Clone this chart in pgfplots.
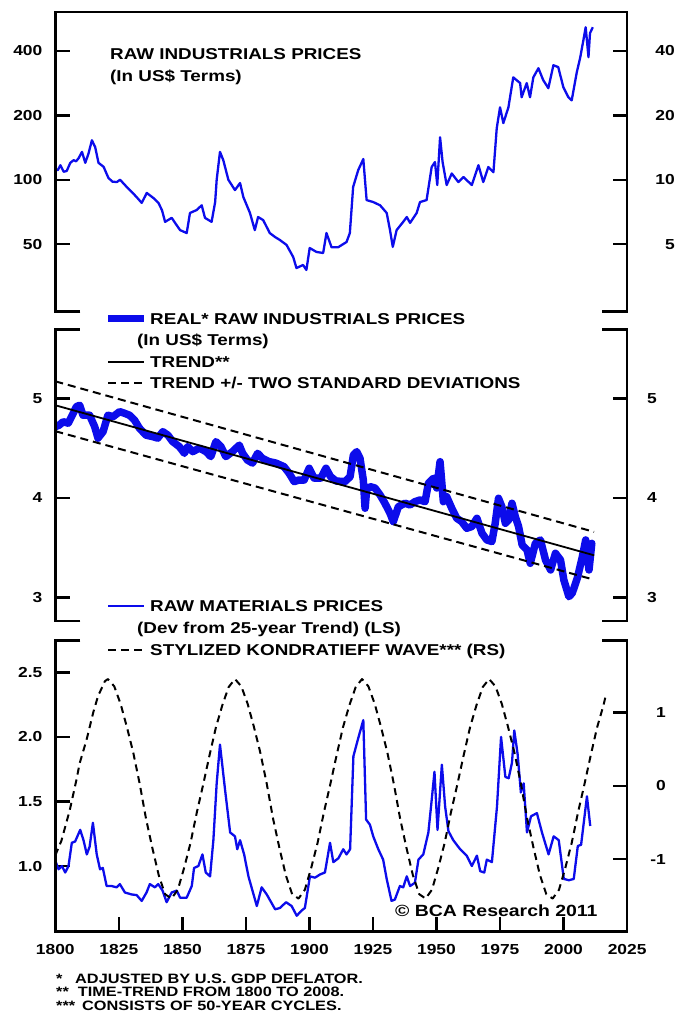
\documentclass[border=0pt]{standalone}
\usepackage{fontspec}
\setmainfont{Liberation Sans}[FakeStretch=1.2]
\usepackage{pgfplots}
\usepackage{pgfplotstable}
\pgfplotsset{compat=1.18}

\definecolor{lineblue}{RGB}{12,12,235}

\newcommand\tickfont{\bfseries\fontsize{14.5}{14.5}\selectfont}
\newcommand\legfont{\bfseries\fontsize{15.7}{15.7}\selectfont}
\newcommand\notefont{\bfseries\fontsize{13.6}{13.6}\selectfont}
\newcommand\bcafont{\bfseries\fontsize{16.2}{16.2}\selectfont}

% Raw industrials prices, nominal US$ (log scale)
\pgfplotstableread{
year val
1800 111
1801 111
1802 117
1803.3 109
1804.5 110
1805.9 120
1807.2 123.5
1808.2 122
1809.2 126.3
1810.5 135
1811.8 120
1813.1 133
1814.4 153
1815.7 142
1817 120
1819 115
1820.9 102
1822.5 98
1824.2 97.6
1825.5 100
1828.1 92.6
1830 88
1832 83
1834 78
1836 86.8
1838.6 82.2
1840.6 78
1842 72
1843.2 63.6
1845.8 66.4
1847.5 62
1849.1 58.2
1851.7 56.4
1853 70
1855.6 72.2
1857.6 76
1858.9 66.4
1861.5 63.6
1862.9 78.7
1863.5 100
1864.8 135
1866.1 123.5
1868.1 100
1870.7 89.5
1872.7 96.6
1874 83
1876.6 70
1878.5 58.2
1879.8 67
1881.8 64.8
1884.4 56.4
1886.5 54
1888.4 52.3
1891 49.6
1893.6 43.6
1894.9 38.7
1897.5 40
1898.8 37.9
1900.1 48
1902.8 46
1905.4 45.5
1906.7 56.4
1908.7 48.4
1911.3 48.4
1914.6 51.2
1915.9 56.4
1917.2 92.6
1919.2 111
1921.2 125
1922.5 80.4
1925.1 78.7
1927.8 76
1930.4 70
1931.7 58.2
1932.8 48.6
1934.3 58.2
1936.9 63.6
1938.3 67
1939.6 62.9
1942.2 70
1943.5 78.7
1946.1 80.4
1948.1 114.7
1949.4 121
1950.3 94.5
1951.4 158
1952.4 121
1954 94.5
1956 107
1958.6 97.6
1960.6 103
1963.9 94.5
1966.5 117
1968.4 97.6
1970.4 114.7
1972.4 108.5
1973.7 174
1975 218
1976.3 184
1978.3 218
1980.2 301
1982.9 283
1983.5 243
1985.5 283
1986.8 243
1988.1 301
1990.1 332
1992 292
1994 268
1996 343
1997.9 336
1999.9 271
2001.9 243
2003.2 235
2005.2 318
2006.5 370
2007.8 449
2008.7 516
2009.8 374
2010.4 484
2011.5 516
}\rawnominal

% Real raw industrials prices (log of deflated index)
\pgfplotstableread{
year val
1800 4.715
1801.5 4.73
1803.1 4.765
1805.1 4.75
1806.4 4.815
1808.3 4.916
1809.6 4.93
1810.9 4.83
1813.5 4.83
1815.5 4.715
1816.8 4.60
1818.8 4.665
1820.7 4.83
1822.7 4.815
1825.3 4.866
1827.2 4.85
1829.2 4.83
1831.2 4.78
1833.1 4.70
1835.7 4.63
1838.4 4.615
1840.3 4.60
1842.3 4.665
1844.3 4.63
1846.2 4.565
1848.8 4.515
1850.8 4.448
1852.1 4.515
1854.1 4.465
1856.7 4.50
1859.3 4.465
1861.2 4.415
1863.2 4.565
1865.2 4.515
1867.1 4.415
1869.7 4.465
1872.4 4.53
1873.7 4.448
1875.6 4.38
1877.6 4.35
1879.6 4.448
1881.5 4.398
1884.1 4.365
1886.8 4.35
1890.0 4.314
1892.0 4.248
1894.0 4.164
1895.9 4.18
1897.9 4.18
1899.9 4.298
1901.8 4.20
1904.5 4.20
1906.5 4.298
1908.3 4.214
1910.5 4.17
1914.0 4.164
1916.0 4.214
1917.3 4.431
1918.6 4.465
1919.9 4.398
1921.2 4.18
1921.9 3.897
1922.5 4.08
1923.8 4.114
1925.8 4.10
1927.8 4.03
1929.7 3.947
1931.7 3.847
1933.0 3.763
1935.0 3.913
1937.6 3.947
1939.6 3.93
1941.5 3.963
1943.5 3.98
1945.5 3.963
1946.8 4.147
1948.8 4.198
1950.1 4.10
1951.4 4.364
1952.7 3.963
1954.0 4.013
1956.0 3.897
1958.0 3.796
1959.9 3.763
1961.9 3.696
1963.9 3.713
1965.9 3.796
1967.9 3.646
1969.8 3.579
1971.8 3.563
1973.1 3.746
1974.4 3.997
1975.7 3.913
1977.1 3.746
1978.4 3.78
1979.7 3.947
1981.0 3.813
1982.3 3.713
1983.7 3.529
1985.6 3.479
1986.9 3.345
1988.9 3.545
1990.9 3.579
1992.9 3.378
1994.9 3.278
1996.8 3.445
1998.8 3.378
2000.1 3.178
2002.1 3.01
2003.4 3.045
2005.4 3.195
2007.4 3.411
2008.7 3.579
2010.0 3.278
2011.1 3.545
}\realprices

% Raw materials prices, deviation from 25-year trend (left scale)
\pgfplotstableread{
year val
1800 1.04
1801.3 0.975
1802.6 1.0
1803.9 0.95
1805.2 1.0
1806.5 1.18
1807.8 1.19
1809.8 1.28
1811.1 1.20
1812.4 1.09
1813.5 1.15
1814.8 1.335
1816.3 1.09
1817.6 0.975
1818.7 0.985
1820.2 0.845
1822.2 0.845
1824.1 0.835
1825.4 0.86
1827.4 0.795
1830.0 0.78
1832.0 0.775
1834.0 0.73
1835.9 0.795
1837.2 0.86
1839.2 0.835
1840.5 0.86
1842.2 0.81
1843.8 0.72
1845.8 0.795
1847.8 0.81
1849.1 0.755
1851.7 0.755
1853.7 0.845
1854.6 0.985
1856.3 1.0
1857.9 1.09
1859.2 0.95
1860.9 0.92
1862.2 1.20
1863.5 1.64
1864.8 1.94
1866.8 1.59
1868.8 1.26
1870.7 1.23
1871.6 1.13
1872.7 1.20
1874.3 1.09
1876.0 0.92
1879.3 0.69
1881.2 0.835
1883.2 0.78
1886.5 0.665
1888.4 0.675
1890.8 0.72
1893.0 0.69
1895.0 0.615
1896.9 0.655
1898.2 0.675
1900.2 0.92
1902.2 0.91
1904.2 0.935
1906.1 0.95
1908.1 1.18
1909.4 1.03
1911.4 1.06
1913.3 1.13
1914.6 1.09
1916.0 1.13
1917.3 1.85
1919.2 1.99
1921.2 2.13
1922.3 1.36
1923.8 1.32
1925.1 1.23
1927.1 1.13
1929.0 1.05
1930.4 0.90
1932.3 0.73
1933.6 0.74
1935.6 0.845
1936.9 0.835
1938.3 0.92
1939.6 0.845
1941.5 0.87
1942.9 1.05
1944.8 1.09
1946.8 1.26
1948.1 1.51
1949.2 1.73
1950.4 1.28
1952.1 1.785
1953.4 1.46
1954.7 1.27
1956.6 1.20
1959.3 1.13
1961.9 1.08
1963.9 1.00
1965.9 1.08
1967.2 0.96
1968.8 0.95
1969.8 1.05
1971.8 1.03
1973.8 1.46
1975.4 2.00
1977.1 1.69
1978.4 1.68
1979.7 1.80
1980.6 2.05
1981.9 1.87
1983.2 1.57
1984.3 1.64
1985.6 1.26
1987.2 1.385
1989.5 1.41
1991.5 1.26
1994.1 1.09
1996.1 1.23
1998.1 1.20
2000.1 0.90
2002.1 0.89
2004.0 0.90
2005.6 1.155
2006.9 1.165
2009.2 1.54
2010.5 1.31
}\rawdev

% Stylized Kondratieff wave, 50-year cycles (right scale)
\pgfplotstableread{
year val
1800 -0.95
1802.4 -0.75
1805.7 -0.33
1808.3 0.08
1809.6 0.31
1812.3 0.63
1814.9 1.00
1816.8 1.225
1819.5 1.43
1820.7 1.46
1823.2 1.36
1825.7 1.12
1828.2 0.80
1830.7 0.45
1833.2 0.03
1835.7 -0.45
1838.2 -0.85
1840.7 -1.22
1843.2 -1.48
1845.7 -1.54
1848.2 -1.42
1850.7 -1.12
1853.2 -0.78
1855.7 -0.36
1858.2 0.02
1860.7 0.42
1863.2 0.80
1865.7 1.10
1868.2 1.35
1870.7 1.46
1873.2 1.36
1875.7 1.12
1878.2 0.80
1880.7 0.45
1883.2 0.03
1885.7 -0.45
1888.2 -0.85
1890.7 -1.22
1893.2 -1.48
1895.7 -1.54
1898.2 -1.42
1900.7 -1.12
1903.2 -0.78
1905.7 -0.36
1908.2 0.02
1910.7 0.42
1913.2 0.80
1915.7 1.10
1918.2 1.35
1920.7 1.46
1923.2 1.36
1925.7 1.12
1928.2 0.80
1930.7 0.45
1933.2 0.03
1935.7 -0.45
1938.2 -0.85
1940.7 -1.22
1943.2 -1.48
1945.7 -1.54
1948.2 -1.42
1950.7 -1.12
1953.2 -0.78
1955.7 -0.36
1958.2 0.02
1960.7 0.42
1963.2 0.80
1965.7 1.10
1968.2 1.35
1970.7 1.46
1973.2 1.36
1975.7 1.12
1978.2 0.80
1980.7 0.45
1983.2 0.03
1985.7 -0.45
1988.2 -0.85
1990.7 -1.22
1993.2 -1.48
1995.7 -1.54
1998.2 -1.42
2000.7 -1.12
2003.2 -0.78
2005.7 -0.36
2008.2 0.02
2010.7 0.42
2013.2 0.80
2015.7 1.10
2016.7 1.25
}\kwave

\pgfplotsset{
  panel/.style={
    scale only axis, width=571.8pt,
    xmin=1800, xmax=2025,
    axis line style={draw=none},
    tick align=inside, major tick length=14.5pt,
    minor tick num=0, minor tick length=0pt,
    tick style={black, line width=2.5pt},
    xtick=\empty,
    /pgf/number format/assume math mode=true,
  },
  leftlabels/.style={
    ytick pos=both, yticklabel pos=left,
    yticklabel style={font=\tickfont, anchor=east, inner sep=0pt, xshift=-12.8pt},
  },
  rightlabels/.style={
    ytick pos=right, yticklabel pos=right, major tick length=0pt,
    yticklabel style={font=\tickfont, anchor=east, inner sep=0pt, xshift=#1},
  },
}
\tikzset{frame/.style={black, line width=2.7pt, line join=miter}}

\begin{document}
\begin{tikzpicture}[x=1pt, y=1pt]

% ---------- top panel: nominal prices ----------
\begin{axis}[panel, leftlabels, name=top,
  at={(55.3pt,702.3pt)}, anchor=south west, height=299.7pt,
  ymode=log, ymin=24.2, ymax=608,
  ytick={50,100,200,400}, yticklabels={50,100,200,400}]
  \addplot[lineblue, line width=2.3pt, line join=round] table[x=year, y=val] {\rawnominal};
\end{axis}
\begin{axis}[panel, rightlabels=47.9pt,
  at={(55.3pt,702.3pt)}, anchor=south west, height=299.7pt,
  ymode=log, ymin=24.2, ymax=608,
  ytick={50,100,200,400}, yticklabels={5,10,20,40}]
  \addplot[draw=none] coordinates {(1900,100)};
\end{axis}

% ---------- middle panel: real prices and trend ----------
\begin{axis}[panel, leftlabels, name=mid,
  at={(55.3pt,393pt)}, anchor=south west, height=291.7pt,
  ymin=2.766, ymax=5.692,
  ytick={3,4,5}, yticklabels={3,4,5}]
  \addplot[lineblue, line width=7.5pt, line join=round, line cap=round] table[x=year, y=val] {\realprices};
  \addplot[black, line width=1.8pt] coordinates {(1800,4.93) (2012,3.425)};
  \addplot[black, line width=2pt, dash pattern=on 8pt off 5pt] coordinates {(1800,5.17) (2012,3.66)};
  \addplot[black, line width=2pt, dash pattern=on 8pt off 5pt] coordinates {(1800,4.67) (2012,3.18)};
\end{axis}
\begin{axis}[panel, rightlabels=29.9pt,
  at={(55.3pt,393pt)}, anchor=south west, height=291.7pt,
  ymin=2.766, ymax=5.692,
  ytick={3,4,5}, yticklabels={3,4,5}]
  \addplot[draw=none] coordinates {(1900,4)};
\end{axis}

% ---------- bottom panel: deviation from trend and long wave ----------
\begin{axis}[panel, name=bot,
  at={(55.3pt,82.5pt)}, anchor=south west, height=290.8pt,
  ymin=0.493, ymax=2.745,
  ytick={1,1.5,2,2.5}, yticklabels={1.0,1.5,2.0,2.5},
  ytick pos=left, yticklabel pos=left,
  yticklabel style={font=\tickfont, anchor=east, inner sep=0pt, xshift=-12.8pt},
  xtick={1800,1825,...,2025},
  xticklabels={1800,1825,1850,1875,1900,1925,1950,1975,2000,2025},
  xtick pos=left,
  xticklabel style={font=\tickfont, anchor=center, inner sep=0pt, yshift=-18.5pt}]
  \addplot[lineblue, line width=2.3pt, line join=round] table[x=year, y=val] {\rawdev};
\end{axis}
\begin{axis}[panel,
  at={(55.3pt,82.5pt)}, anchor=south west, height=290.8pt,
  ymin=-1.99, ymax=1.984,
  ytick={-1,0,1}, yticklabels={-1,0,1},
  ytick pos=right, yticklabel pos=right,
  yticklabel style={font=\tickfont, anchor=east, inner sep=0pt, xshift=38.9pt}]
  \addplot[black, line width=2pt, dash pattern=on 7pt off 5pt, line join=round] table[x=year, y=val] {\kwave};
\end{axis}

% ---------- panel frames ----------
\draw[frame] ([xshift=25pt]top.south west) -- (top.south west) -- (top.north west)
  -- (top.north east) -- (top.south east) -- ([xshift=-25pt]top.south east);
\draw[frame] ([xshift=25pt]mid.south west) -- (mid.south west) -- (mid.north west) -- ([xshift=25pt]mid.north west);
\draw[frame] ([xshift=-25pt]mid.south east) -- (mid.south east) -- (mid.north east) -- ([xshift=-25pt]mid.north east);
\draw[frame] ([xshift=25pt]bot.north west) -- (bot.north west) -- (bot.south west)
  -- (bot.south east) -- (bot.north east) -- ([xshift=-25pt]bot.north east);

% ---------- titles and legends ----------
\begin{scope}[every node/.style={anchor=base west, inner sep=0pt, font=\legfont}]
  \node at (110,954.7) {RAW INDUSTRIALS PRICES};
  \node at (110,932.7) {(In US\$ Terms)};

  \draw[lineblue, line width=7pt] (108,695) -- (144,695);
  \node at (150,689.5) {REAL* RAW INDUSTRIALS PRICES};
  \node at (137,668) {(In US\$ Terms)};
  \draw[black, line width=1.8pt] (108,652) -- (144,652);
  \node at (150,646.5) {TREND**};
  \draw[black, line width=2pt, dash pattern=on 8pt off 5pt] (108,631) -- (144,631);
  \node at (150,625.5) {TREND +/- TWO STANDARD DEVIATIONS};

  \draw[lineblue, line width=2.5pt] (108,408) -- (144,408);
  \node at (150,402.5) {RAW MATERIALS PRICES};
  \node at (137,380.5) {(Dev from 25-year Trend) (LS)};
  \draw[black, line width=2pt, dash pattern=on 8pt off 5pt] (108,364) -- (144,364);
  \node at (150,358.5) {STYLIZED KONDRATIEFF WAVE*** (RS)};

  \node[font=\bcafont] at (395,97.5) {\textcopyright{} BCA Research 2011};

  \node[font=\notefont] at (56,30.5) {*};
  \node[font=\notefont] at (75,30.5) {ADJUSTED BY U.S. GDP DEFLATOR.};
  \node[font=\notefont] at (56,17) {**};
  \node[font=\notefont] at (77.6,17) {TIME-TREND FROM 1800 TO 2008.};
  \node[font=\notefont] at (56,3.5) {***};
  \node[font=\notefont] at (82,3.5) {CONSISTS OF 50-YEAR CYCLES.};
\end{scope}

\pgfresetboundingbox
\path[use as bounding box] (0,0) rectangle (676,1014);
\end{tikzpicture}
\end{document}
